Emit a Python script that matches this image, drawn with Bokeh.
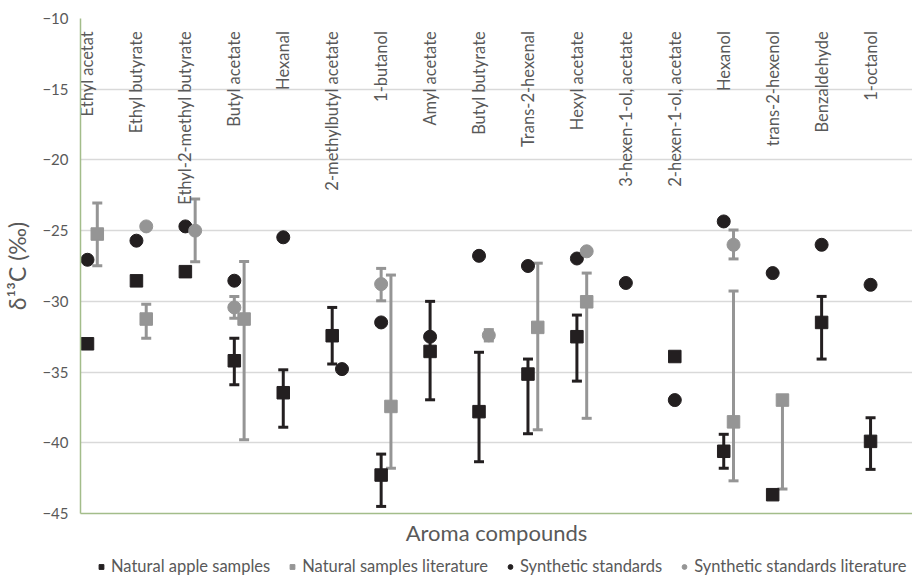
import math
from bokeh.plotting import figure
from bokeh.layouts import column
from bokeh.models import (ColumnDataSource, Whisker, TeeHead, Legend, LegendItem,
                          Range1d, FixedTicker)
from bokeh.core.properties import value
from bokeh.embed import file_html
from bokeh.resources import INLINE

# ---------------- data ----------------
categories = ["Ethyl acetat", "Ethyl butyrate", "Ethyl-2-methyl butyrate", "Butyl acetate",
              "Hexanal", "2-methylbutyl acetate", "1-butanol", "Amyl acetate",
              "Butyl butyrate", "Trans-2-hexenal", "Hexyl acetate", "3-hexen-1-ol, acetate",
              "2-hexen-1-ol, acetate", "Hexanol", "trans-2-hexenol", "Benzaldehyde", "1-octanol"]
cat_x = [1, 2, 3, 4, 5, 6, 7, 8, 9, 10, 11, 12, 13, 14, 15, 16, 17]

# Natural apple samples
nat_x = [1, 2, 3, 4, 5, 6, 7, 8, 9, 10, 11, 13, 14, 15, 16, 17]
nat_y = [-33.0, -28.55, -27.9, -34.2, -36.46, -32.43, -42.28, -33.54, -37.8, -35.14,
         -32.5, -33.9, -40.6, -43.67, -31.49, -39.9]
nat_up = [None, None, None, 1.6, 1.62, 2.0, 1.48, 3.54, 4.2, 1.06, 1.53, None, 1.2, None, 1.84, 1.67]
nat_dn = [None, None, None, 1.7, 2.44, 2.0, 2.22, 3.42, 3.54, 4.22, 3.14, None, 1.2, None, 2.59, 1.98]

# Natural samples literature
natl_x = [1.2, 2.2, 4.2, 7.2, 10.2, 11.2, 14.2, 15.2]
natl_y = [-25.24, -31.25, -31.25, -37.43, -31.84, -30.03, -38.52, -36.98]
natl_up = [2.19, 1.05, 4.06, 9.29, 4.54, 2.03, 9.25, 0.0]
natl_dn = [2.24, 1.35, 8.54, 4.37, 7.24, 8.24, 4.17, 6.29]

# Synthetic standards
syn_x = [1, 2, 3, 4, 5, 6.2, 7, 8, 9, 10, 11, 12, 13, 14, 15, 16, 17]
syn_y = [-27.06, -25.71, -24.7, -28.54, -25.47, -34.79, -31.49, -32.5, -26.78, -27.5,
         -26.97, -28.7, -36.98, -24.35, -28.0, -26.0, -28.83]

# Synthetic standards literature
synl_x = [2.2, 3.2, 4, 7, 9.2, 11.2, 14.2]
synl_y = [-24.7, -25.0, -30.43, -28.78, -32.4, -26.46, -26.0]
synl_up = [None, 2.23, 0.78, 1.11, 0.4, None, 1.04]
synl_dn = [None, 2.2, 0.77, 1.18, 0.4, None, 1.0]

series_names = ["Natural apple samples", "Natural samples literature",
                "Synthetic standards", "Synthetic standards literature"]
y_ticks = [-45, -40, -35, -30, -25, -20, -15, -10]

# ---------------- styling ----------------
BLACK = "#231f20"
GRAY = "#959595"
TXT = "#595959"
FONT = "Lato"

p = figure(width=912, height=550, output_backend="svg", toolbar_location=None,
           x_range=Range1d(0.857, 17.857), y_range=Range1d(-45, -10),
           min_border_left=75, min_border_right=0, min_border_top=18, min_border_bottom=37)
p.outline_line_color = None
p.background_fill_color = "white"
p.border_fill_color = "white"

# axes
p.yaxis.ticker = FixedTicker(ticks=y_ticks)
p.yaxis.major_tick_line_color = None
p.yaxis.minor_tick_line_color = None
p.yaxis.major_tick_out = 0
p.yaxis.major_label_standoff = 12
p.yaxis.major_label_text_font = FONT
p.yaxis.major_label_text_font_size = "15px"
p.yaxis.major_label_text_color = TXT
p.yaxis.axis_line_color = "#a3bd8a"
p.yaxis.axis_line_width = 1.5
p.yaxis.axis_label = "δ¹³C (‰)"
p.yaxis.axis_label_text_font = FONT
p.yaxis.axis_label_text_font_size = "23px"
p.yaxis.axis_label_text_font_style = "normal"
p.yaxis.axis_label_text_color = TXT
p.yaxis.axis_label_standoff = 8

p.xaxis.ticker = FixedTicker(ticks=[])
p.xaxis.major_tick_line_color = None
p.xaxis.minor_tick_line_color = None
p.xaxis.major_label_text_font_size = "0px"
p.xaxis.axis_line_color = "#a3bd8a"
p.xaxis.axis_line_width = 1.5
p.xaxis.axis_label = "Aroma compounds"
p.xaxis.axis_label_text_font = FONT
p.xaxis.axis_label_text_font_size = "22px"
p.xaxis.axis_label_text_font_style = "normal"
p.xaxis.axis_label_text_color = TXT
p.xaxis.axis_label_standoff = 5

p.xgrid.grid_line_color = None
p.ygrid.ticker = FixedTicker(ticks=y_ticks)
p.ygrid.grid_line_color = "#d9d9d9"
p.ygrid.grid_line_width = 1.3

# category labels (rotated, hanging from the top)
lab_src = ColumnDataSource(dict(x=cat_x, y=[-10.9] * len(cat_x), t=categories))
p.text(x="x", y="y", text="t", source=lab_src, angle=math.pi / 2,
       text_align="right", text_baseline="middle",
       text_font=value(FONT), text_font_size="16.5px", text_color=TXT)


def add_whiskers(xs, ys, ups, dns, color):
    bx, lo, hi = [], [], []
    for x, y, u, d in zip(xs, ys, ups, dns):
        if u is None and d is None:
            continue
        bx.append(x)
        hi.append(y + (u or 0.0))
        lo.append(y - (d or 0.0))
    src = ColumnDataSource(dict(base=bx, lower=lo, upper=hi))
    w = Whisker(source=src, base="base", lower="lower", upper="upper", dimension="height",
                line_color=color, line_width=3,
                upper_head=TeeHead(size=10, line_color=color, line_width=3),
                lower_head=TeeHead(size=10, line_color=color, line_width=3))
    p.add_layout(w)


# series 1: natural apple samples
add_whiskers(nat_x, nat_y, nat_up, nat_dn, BLACK)
p.scatter(nat_x, nat_y, marker="square", size=12.5, fill_color=BLACK, line_color=BLACK)

# series 2: natural samples literature
add_whiskers(natl_x, natl_y, natl_up, natl_dn, GRAY)
p.scatter(natl_x, natl_y, marker="square", size=12.5, fill_color=GRAY, line_color=GRAY)

# series 3: synthetic standards
p.scatter(syn_x, syn_y, marker="circle", size=13, fill_color=BLACK, line_color=BLACK)

# series 4: synthetic standards literature
add_whiskers(synl_x, synl_y, synl_up, synl_dn, GRAY)
p.scatter(synl_x, synl_y, marker="circle", size=13, fill_color=GRAY, line_color=GRAY)

# ---------------- legend strip (below the chart) ----------------
leg = figure(width=912, height=30, output_backend="svg", toolbar_location=None,
             x_axis_type=None, y_axis_type=None, min_border=0,
             x_range=Range1d(0, 1), y_range=Range1d(0, 1))
leg.outline_line_color = None
leg.grid.visible = False
styles = [("square", BLACK), ("square", GRAY), ("circle", BLACK), ("circle", GRAY)]
items = []
nan = float("nan")
for name, (mk, col) in zip(series_names, styles):
    r = leg.scatter([nan], [nan], marker=mk, size=12, fill_color=col, line_color=col)
    items.append(LegendItem(label=name, renderers=[r]))
legend = Legend(items=items, orientation="horizontal", location=(15, 4))
legend.border_line_color = None
legend.background_fill_alpha = 0
legend.label_text_font = FONT
legend.label_text_font_size = "16.5px"
legend.label_text_color = TXT
legend.glyph_width = 12
legend.glyph_height = 13
legend.label_standoff = 4
legend.spacing = 16
legend.padding = 2
legend.margin = 0
leg.add_layout(legend)

layout = column(p, leg, spacing=0)
open("out.html", "w").write(file_html(layout, INLINE))
